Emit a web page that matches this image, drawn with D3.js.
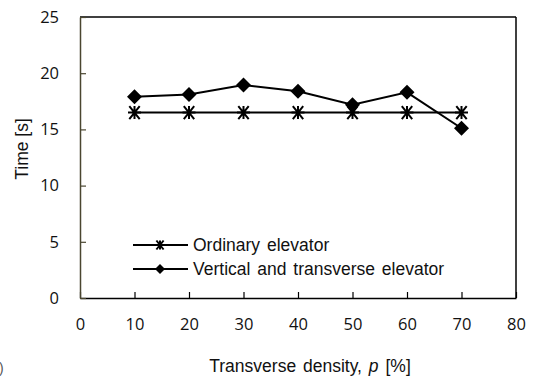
<!DOCTYPE html>
<html>
<head>
<meta charset="utf-8">
<script src="https://cdn.jsdelivr.net/npm/d3@7"></script>
<style>
  body { margin: 0; background: #fff; }
  svg { display: block; }
</style>
</head>
<body>
<svg id="chart" width="545" height="378"></svg>
<script>
const densities = [10, 20, 30, 40, 50, 60, 70];
const ordinary = [16.5, 16.5, 16.5, 16.5, 16.5, 16.5, 16.5];
const verticalTransverse = [17.9, 18.1, 18.95, 18.4, 17.2, 18.3, 15.1];
const seriesNames = ['Ordinary elevator', 'Vertical and transverse elevator'];
const xTicks = [0, 10, 20, 30, 40, 50, 60, 70, 80];
const yTicks = [0, 5, 10, 15, 20, 25];

const margin = { top: 17, right: 29, bottom: 80, left: 80 };
const svg = d3.select('#chart');
const width = 545 - margin.left - margin.right;
const height = 378 - margin.top - margin.bottom;
const g = svg.append('g').attr('transform', `translate(${margin.left}, ${margin.top})`);

const x = d3.scaleLinear().domain([0, 80]).range([0, width]);
const y = d3.scaleLinear().domain([0, 25]).range([height, 0]);

const tickFont = '"Open Sans", sans-serif';
const labelFont = '"Liberation Sans", Arial, sans-serif';

// frame: top and right black, left olive-ish
g.append('line').attr('x1', 0).attr('x2', width).attr('y1', 0).attr('y2', 0)
  .attr('stroke', '#000').attr('stroke-width', 1.5);
g.append('line').attr('x1', width).attr('x2', width).attr('y1', 0).attr('y2', height)
  .attr('stroke', '#000').attr('stroke-width', 1.5);

const xAxis = g.append('g')
  .attr('transform', `translate(0, ${height})`)
  .call(d3.axisBottom(x).tickValues(xTicks).tickSizeInner(-6).tickSizeOuter(0).tickPadding(20));
xAxis.select('.domain').attr('stroke', '#000').attr('stroke-width', 1.5);
xAxis.selectAll('.tick line').attr('stroke', '#000').attr('stroke-width', 1.2);
xAxis.selectAll('.tick text').attr('font-family', tickFont).attr('font-size', 16.5).attr('fill', '#111');

const yAxis = g.append('g')
  .call(d3.axisLeft(y).tickValues(yTicks).tickSizeInner(-6).tickSizeOuter(0).tickPadding(21));
yAxis.select('.domain').attr('stroke', '#4a4630').attr('stroke-width', 1.5);
yAxis.selectAll('.tick line').attr('stroke', '#4a4630').attr('stroke-width', 1.2);
yAxis.selectAll('.tick text').attr('font-family', tickFont).attr('font-size', 16.5).attr('fill', '#111');

// axis titles
svg.append('text')
  .attr('x', 310).attr('y', 372)
  .attr('text-anchor', 'middle')
  .attr('font-family', labelFont).attr('font-size', 17.5).attr('fill', '#111')
  .attr('word-spacing', 2)
  .call(t => {
    t.append('tspan').text('Transverse density, ');
    t.append('tspan').attr('font-style', 'italic').text('p');
    t.append('tspan').text(' [%]');
  });
svg.append('text')
  .attr('transform', 'translate(28, 149) rotate(-90)')
  .attr('text-anchor', 'middle')
  .attr('font-family', labelFont).attr('font-size', 17.5).attr('fill', '#111')
  .text('Time [s]');
svg.append('text')
  .attr('x', -1).attr('y', 373)
  .attr('font-family', labelFont).attr('font-size', 14).attr('fill', '#555')
  .text(')');

const line = d3.line().x(d => x(d[0])).y(d => y(d[1]));
const ordPts = densities.map((d, i) => [d, ordinary[i]]);
const vtPts = densities.map((d, i) => [d, verticalTransverse[i]]);

function asterisk(sel, s) {
  const p = `M${-s},0 H${s} M${-s * 0.8},${-s} L${s * 0.8},${s} M${s * 0.8},${-s} L${-s * 0.8},${s} M0,${-s} V${s}`;
  sel.append('path').attr('d', p).attr('stroke', '#000').attr('stroke-width', 2).attr('fill', 'none');
}
function diamond(sel, s) {
  sel.append('path').attr('d', `M0,${-s} L${s},0 L0,${s} L${-s},0 Z`).attr('fill', '#000');
}

g.append('path').datum(ordPts).attr('d', line)
  .attr('fill', 'none').attr('stroke', '#000').attr('stroke-width', 2);
g.append('path').datum(vtPts).attr('d', line)
  .attr('fill', 'none').attr('stroke', '#000').attr('stroke-width', 2);

g.selectAll('.m-ord').data(ordPts).enter().append('g')
  .attr('transform', d => `translate(${x(d[0])}, ${y(d[1])})`)
  .each(function() { asterisk(d3.select(this), 6.5); });
g.selectAll('.m-vt').data(vtPts).enter().append('g')
  .attr('transform', d => `translate(${x(d[0])}, ${y(d[1])})`)
  .each(function() { diamond(d3.select(this), 7.5); });

// legend
const legend = svg.append('g').attr('transform', 'translate(133, 245)');
seriesNames.forEach((name, i) => {
  const row = legend.append('g').attr('transform', `translate(0, ${i * 24})`);
  row.append('line').attr('x1', 0).attr('x2', 55).attr('y1', 0).attr('y2', 0)
    .attr('stroke', '#000').attr('stroke-width', 2);
  const m = row.append('g').attr('transform', 'translate(27, 0)');
  if (i === 0) asterisk(m, 4.5); else diamond(m, 5);
  row.append('text').attr('x', 60).attr('y', 6)
    .attr('font-family', labelFont).attr('font-size', 17.5).attr('fill', '#111')
    .attr('word-spacing', 2)
    .text(name);
});
</script>
</body>
</html>
